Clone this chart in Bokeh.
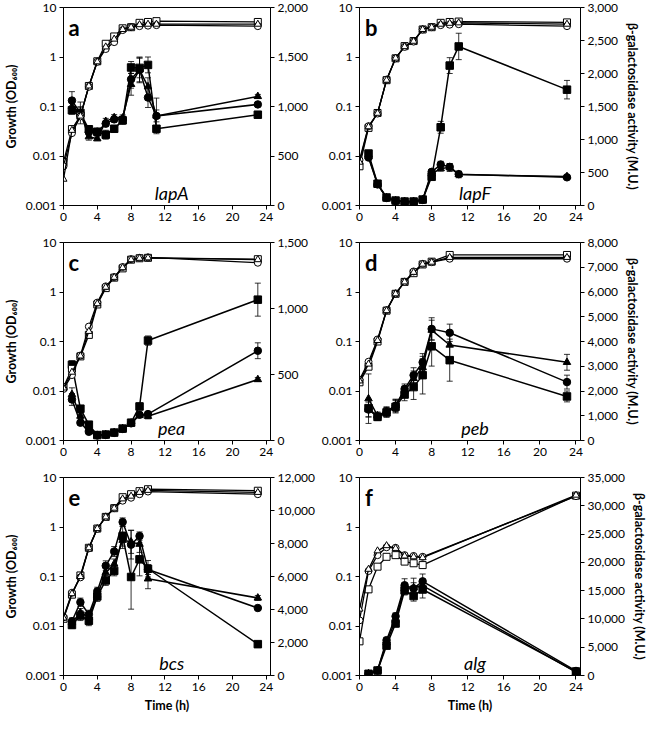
from bokeh.plotting import figure
from bokeh.models import (Range1d, LinearAxis, LinearScale, FixedTicker,
                          NumeralTickFormatter, Whisker, TeeHead,
                          ColumnDataSource, Label)
from bokeh.layouts import gridplot
from bokeh.embed import file_html
from bokeh.resources import INLINE

# ---------------- data ----------------
# panel a : lapA
A_T_OD = [0, 1, 2, 3, 4, 5, 6, 7, 8, 9, 10, 11, 23]
A_OD_SQ = [0.0075, 0.035, 0.065, 0.26, 0.82, 1.85, 2.6, 3.8, 4.0, 4.9, 5.1, 5.3, 5.1]
A_OD_CI = [0.0062, 0.029, 0.063, 0.25, 0.80, 1.45, 2.0, 3.5, 4.0, 4.2, 4.3, 4.4, 4.2]
A_OD_TR = [0.0034, 0.033, 0.064, 0.26, 0.80, 1.6, 2.3, 3.6, 4.0, 4.5, 4.6, 4.6, 4.6]
A_T_B = [1, 2, 3, 4, 5, 6, 7, 8, 9, 10, 11, 23]
A_B_SQ = [962, 935, 770, 745, 715, 775, 860, 1394, 1390, 1420, 775, 917]
A_B_CI = [1060, 935, 740, 745, 827, 870, 870, 1275, 1370, 1090, 905, 1021]
A_B_TR = [1000, 935, 695, 675, 850, 888, 885, 1224, 1370, 1200, 905, 1102]
A_E_SQ = [40, 110, 30, 25, 45, 30, 40, 60, 100, 80, 25, 20]
A_E_CI = [90, 60, 30, 25, 30, 30, 30, 90, 120, 100, 60, 20]
A_E_TR = [50, 60, 35, 20, 30, 30, 30, 110, 130, 90, 180, 20]

# panel b : lapF
B_T_OD = [0, 1, 2, 3, 4, 5, 6, 7, 8, 9, 10, 11, 23]
B_OD_SQ = [0.0062, 0.037, 0.074, 0.34, 0.94, 1.66, 2.1, 3.6, 4.0, 4.9, 5.1, 5.2, 5.0]
B_OD_CI = [0.0083, 0.040, 0.072, 0.35, 0.94, 1.60, 2.05, 3.6, 4.0, 4.4, 4.5, 4.6, 4.2]
B_OD_TR = [0.0075, 0.039, 0.073, 0.34, 0.95, 1.62, 2.08, 3.6, 4.0, 4.6, 4.8, 4.9, 4.6]
B_T_B = [1, 2, 3, 4, 5, 6, 7, 8, 9, 10, 11, 23]
B_B_SQ = [787, 330, 121, 75, 60, 60, 90, 435, 1185, 2120, 2410, 1755]
B_B_CI = [727, 320, 115, 70, 58, 58, 85, 510, 620, 585, 475, 427]
B_B_TR = [740, 325, 118, 72, 59, 59, 88, 480, 560, 575, 470, 440]
B_E_SQ = [30, 20, 10, 5, 5, 5, 10, 30, 90, 120, 200, 140]
B_E_CI = [20, 15, 10, 5, 5, 5, 5, 30, 50, 50, 40, 20]
B_E_TR = [20, 15, 10, 5, 5, 5, 5, 30, 40, 60, 50, 20]

# panel c : pea
C_T_OD = [0, 1, 2, 3, 4, 5, 6, 7, 8, 9, 10, 23]
C_OD_SQ = [0.012, 0.028, 0.050, 0.136, 0.56, 1.20, 1.95, 3.0, 4.5, 4.8, 4.9, 4.6]
C_OD_CI = [0.011, 0.021, 0.052, 0.20, 0.61, 1.30, 2.00, 3.2, 4.6, 4.9, 5.0, 3.9]
C_OD_TR = [0.0115, 0.024, 0.051, 0.16, 0.58, 1.25, 1.98, 3.1, 4.5, 4.8, 4.9, 4.5]
C_T_B = [1, 2, 3, 4, 5, 6, 7, 8, 9, 10, 23]
C_B_SQ = [574, 241, 120, 41, 45, 60, 90, 135, 258, 757, 1067]
C_B_CI = [311, 135, 66, 38, 42, 58, 88, 130, 195, 200, 680]
C_B_TR = [349, 185, 90, 40, 44, 60, 90, 133, 190, 184, 462]
C_E_SQ = [30, 20, 10, 5, 5, 5, 8, 10, 25, 35, 125]
C_E_CI = [45, 15, 8, 5, 5, 5, 8, 10, 15, 20, 60]
C_E_TR = [50, 15, 8, 5, 5, 5, 8, 10, 15, 20, 15]

# panel d : peb
D_T_OD = [0, 1, 2, 3, 4, 5, 6, 7, 8, 10, 23]
D_OD_SQ = [0.015, 0.031, 0.100, 0.42, 0.92, 1.6, 2.4, 3.6, 4.1, 5.6, 5.6]
D_OD_CI = [0.017, 0.039, 0.110, 0.43, 0.93, 1.6, 2.6, 3.7, 4.0, 4.7, 4.7]
D_OD_TR = [0.016, 0.035, 0.105, 0.42, 0.92, 1.6, 2.5, 3.65, 4.0, 5.0, 5.0]
D_T_B = [1, 2, 3, 4, 5, 6, 7, 8, 10, 23]
D_B_SQ = [1307, 954, 1136, 1362, 1857, 2158, 2640, 3806, 3246, 1780]
D_B_CI = [1250, 960, 1140, 1400, 2083, 2640, 3160, 4510, 4352, 2360]
D_B_TR = [1690, 1000, 1180, 1420, 2000, 2510, 2954, 4460, 3860, 3160]
D_E_SQ = [350, 150, 200, 250, 250, 500, 760, 800, 850, 220]
D_E_CI = [300, 150, 180, 250, 200, 300, 350, 450, 350, 280]
D_E_TR = [1000, 150, 180, 250, 200, 300, 350, 400, 500, 320]

# panel e : bcs
E_T_OD = [0, 1, 2, 3, 4, 5, 6, 7, 8, 9, 10, 23]
E_OD_SQ = [0.014, 0.043, 0.105, 0.38, 0.93, 1.6, 2.4, 4.0, 4.6, 5.3, 5.8, 5.4]
E_OD_CI = [0.015, 0.047, 0.096, 0.37, 0.92, 1.6, 2.4, 3.4, 3.9, 4.6, 5.2, 4.6]
E_OD_TR = [0.0145, 0.045, 0.100, 0.38, 0.93, 1.6, 2.4, 3.7, 4.2, 5.0, 5.5, 5.0]
E_T_B = [1, 2, 3, 4, 5, 6, 7, 8, 9, 10, 23]
E_B_SQ = [3060, 3630, 3320, 4790, 5760, 6340, 8440, 5970, 7040, 6470, 1900]
E_B_CI = [3290, 4440, 3705, 5100, 6650, 7515, 9300, 7930, 8450, 6420, 4090]
E_B_TR = [3210, 3810, 3530, 4880, 6230, 6760, 8200, 8100, 7960, 5860, 4700]
E_E_SQ = [200, 300, 300, 300, 300, 300, 600, 1950, 1000, 500, 100]
E_E_CI = [200, 250, 250, 250, 300, 300, 250, 870, 250, 300, 100]
E_E_TR = [200, 250, 250, 250, 300, 300, 500, 700, 500, 600, 150]

# panel f : alg
F_T_OD = [0, 1, 2, 3, 4, 5, 6, 7, 24]
F_OD_SQ = [0.0049, 0.055, 0.158, 0.25, 0.27, 0.20, 0.185, 0.17, 4.3]
F_OD_CI = [0.013, 0.129, 0.27, 0.39, 0.38, 0.27, 0.26, 0.25, 4.2]
F_OD_TR = [0.022, 0.14, 0.33, 0.42, 0.37, 0.26, 0.25, 0.24, 4.4]
F_T_B = [1, 2, 3, 4, 5, 6, 7, 24]
F_B_SQ = [300, 880, 5280, 9200, 15030, 14050, 15200, 700]
F_B_CI = [300, 880, 6240, 10470, 15950, 15400, 16640, 800]
F_B_TR = [300, 880, 5800, 9800, 15400, 15500, 15900, 600]
F_E_SQ = [100, 150, 500, 600, 800, 900, 1500, 300]
F_E_CI = [100, 150, 500, 600, 1150, 1800, 1300, 300]
F_E_TR = [100, 150, 500, 600, 800, 900, 1000, 300]

LETTERS = ["a", "b", "c", "d", "e", "f"]
GENES = ["lapA", "lapF", "pea", "peb", "bcs", "alg"]
BETA_MAX = [2000, 3000, 1500, 8000, 12000, 35000]
BETA_STEP = [500, 500, 500, 1000, 2000, 5000]
X_TICKS = [0, 4, 8, 12, 16, 20, 24]
Y_TICKS = [0.001, 0.01, 0.1, 1, 10]
Y_LABELS = ["0.001", "0.01", "0.1", "1", "10"]

PANELS = [
    (A_T_OD, A_OD_SQ, A_OD_CI, A_OD_TR, A_T_B, A_B_SQ, A_B_CI, A_B_TR, A_E_SQ, A_E_CI, A_E_TR),
    (B_T_OD, B_OD_SQ, B_OD_CI, B_OD_TR, B_T_B, B_B_SQ, B_B_CI, B_B_TR, B_E_SQ, B_E_CI, B_E_TR),
    (C_T_OD, C_OD_SQ, C_OD_CI, C_OD_TR, C_T_B, C_B_SQ, C_B_CI, C_B_TR, C_E_SQ, C_E_CI, C_E_TR),
    (D_T_OD, D_OD_SQ, D_OD_CI, D_OD_TR, D_T_B, D_B_SQ, D_B_CI, D_B_TR, D_E_SQ, D_E_CI, D_E_TR),
    (E_T_OD, E_OD_SQ, E_OD_CI, E_OD_TR, E_T_B, E_B_SQ, E_B_CI, E_B_TR, E_E_SQ, E_E_CI, E_E_TR),
    (F_T_OD, F_OD_SQ, F_OD_CI, F_OD_TR, F_T_B, F_B_SQ, F_B_CI, F_B_TR, F_E_SQ, F_E_CI, F_E_TR),
]

FONT = "Lato"
MARKERS = [("square", 7.5), ("circle", 7.5), ("triangle", 7.5)]


def style_axis(ax):
    ax.axis_line_color = "black"
    ax.axis_line_width = 1
    ax.major_tick_line_color = "black"
    ax.major_tick_out = 4
    ax.major_tick_in = 0
    ax.minor_tick_line_color = None
    ax.major_label_text_font = FONT
    ax.major_label_text_font_size = "12px"
    ax.major_label_text_color = "black"
    ax.major_label_standoff = 3
    ax.axis_label_text_font = FONT
    ax.axis_label_text_font_size = "12.5px"
    ax.axis_label_text_font_style = "bold"
    ax.axis_label_text_color = "black"
    ax.axis_label_standoff = 4


def make_panel(i):
    col = i % 2
    row = i // 2
    (t_od, od_sq, od_ci, od_tr, t_b, b_sq, b_ci, b_tr, e_sq, e_ci, e_tr) = PANELS[i]
    if col == 0:
        w, bl, br = 318, 58, 48
    else:
        w, bl, br = 332, 40, 70
    if row == 0:
        h, bt, bb = 234, 7, 29
    elif row == 1:
        h, bt, bb = 235, 8, 29
    else:
        h, bt, bb = 251, 8, 45

    p = figure(width=w, height=h, x_range=Range1d(0, 24.5),
               y_range=Range1d(0.001, 10), y_axis_type="log",
               output_backend="svg", toolbar_location=None,
               min_border_left=bl, min_border_right=br,
               min_border_top=bt, min_border_bottom=bb)
    p.extra_y_ranges = {"beta": Range1d(0, BETA_MAX[i])}
    p.extra_y_scales = {"beta": LinearScale()}
    p.grid.visible = False
    p.outline_line_color = "black"
    p.outline_line_width = 1
    p.background_fill_color = "white"
    p.border_fill_color = "white"

    # axes
    p.xaxis.ticker = FixedTicker(ticks=X_TICKS)
    ly = p.yaxis[0]
    ly.ticker = FixedTicker(ticks=Y_TICKS)
    ly.major_label_overrides = {v: s for v, s in zip(Y_TICKS, Y_LABELS)}
    ry = LinearAxis(y_range_name="beta",
                    ticker=FixedTicker(ticks=list(range(0, BETA_MAX[i] + 1, BETA_STEP[i]))),
                    formatter=NumeralTickFormatter(format="0,0"))
    p.add_layout(ry, "right")
    for ax in [p.xaxis[0], ly, ry]:
        style_axis(ax)
    if col == 0:
        ly.axis_label = "Growth (OD\u2086\u2080\u2080)"
    else:
        ry.axis_label = "\u03b2-galactosidase activity (M.U.)"
    if row == 2:
        p.xaxis[0].axis_label = "Time (h)"

    # beta-galactosidase (filled, right axis) with error bars
    for (mk, sz), yb, eb in zip(MARKERS, [b_sq, b_ci, b_tr], [e_sq, e_ci, e_tr]):
        src = ColumnDataSource(dict(t=t_b, y=yb,
                                    lo=[max(a - b, 0) for a, b in zip(yb, eb)],
                                    up=[a + b for a, b in zip(yb, eb)]))
        wsk = Whisker(source=src, base="t", lower="lo", upper="up",
                      y_range_name="beta", line_color="black", line_width=0.8,
                      upper_head=TeeHead(size=6, line_color="black", line_width=0.8),
                      lower_head=TeeHead(size=6, line_color="black", line_width=0.8),
                      level="underlay")
        p.add_layout(wsk)
        p.line("t", "y", source=src, y_range_name="beta",
               line_color="black", line_width=1.5)
        p.scatter("t", "y", source=src, y_range_name="beta", marker=mk,
                  size=sz, fill_color="black", line_color="black")

    # growth (open, left log axis)
    for (mk, sz), yo in zip(MARKERS, [od_sq, od_ci, od_tr]):
        p.line(t_od, yo, line_color="black", line_width=1.3)
        p.scatter(t_od, yo, marker=mk, size=sz - 0.5, fill_color="white",
                  line_color="black", line_width=1)

    p.add_layout(Label(x=0.6, y=3.95, text=LETTERS[i], text_font=FONT,
                       text_font_size="22px", text_font_style="bold",
                       text_color="black", text_baseline="alphabetic"))
    p.add_layout(Label(x=12.8, y=0.0018, text=GENES[i], text_font=FONT,
                       text_font_size="18px", text_font_style="italic",
                       text_color="black", text_align="center",
                       text_baseline="middle"))
    return p


figs = [make_panel(i) for i in range(6)]
grid = gridplot([[figs[0], figs[1]], [figs[2], figs[3]], [figs[4], figs[5]]],
                toolbar_location=None)

open("out.html", "w").write(file_html(grid, INLINE))
